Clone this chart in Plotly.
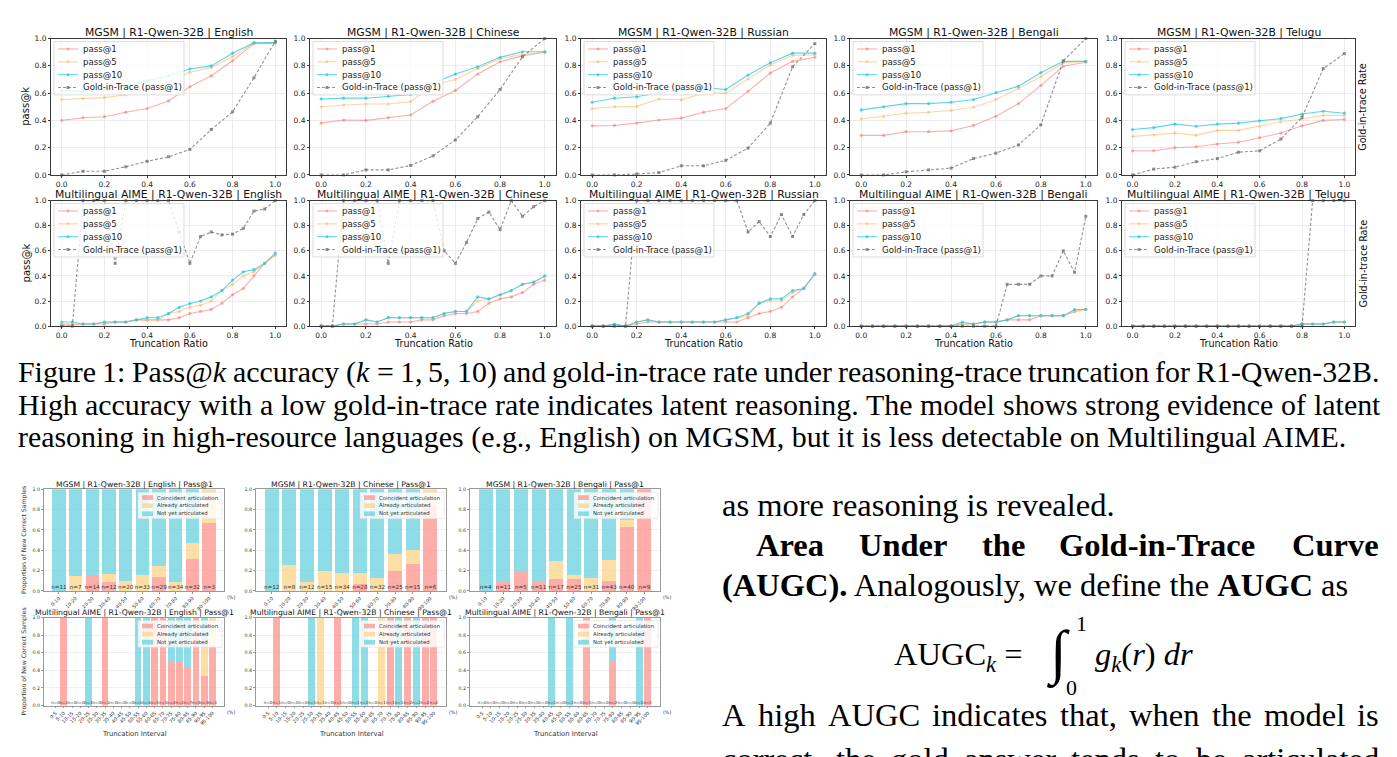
import re
import plotly.graph_objects as go

W, H = 1397, 757

# ======================= DATA =======================
ratio_mgsm = [0.0, 0.1, 0.2, 0.3, 0.4, 0.5, 0.6, 0.7, 0.8, 0.9, 1.0]
ratio_aime = [0.0, 0.05, 0.1, 0.15, 0.2, 0.25, 0.3, 0.35, 0.4, 0.45, 0.5,
              0.55, 0.6, 0.65, 0.7, 0.75, 0.8, 0.85, 0.9, 0.95, 1.0]
languages = ["English", "Chinese", "Russian", "Bengali", "Telugu"]

mgsm_english_p1 = [0.40, 0.42, 0.427, 0.46, 0.487, 0.543, 0.647, 0.727, 0.837, 0.963, 0.967]
mgsm_english_p5 = [0.553, 0.56, 0.567, 0.587, 0.633, 0.683, 0.753, 0.787, 0.867, 0.967, 0.967]
mgsm_english_p10 = [0.617, 0.613, 0.633, 0.65, 0.69, 0.727, 0.777, 0.80, 0.893, 0.97, 0.97]
mgsm_english_gold = [0.0, 0.027, 0.027, 0.06, 0.10, 0.133, 0.187, 0.333, 0.463, 0.713, 0.98]

mgsm_chinese_p1 = [0.38, 0.403, 0.40, 0.42, 0.44, 0.54, 0.62, 0.74, 0.83, 0.873, 0.90]
mgsm_chinese_p5 = [0.50, 0.513, 0.52, 0.52, 0.537, 0.66, 0.70, 0.78, 0.853, 0.883, 0.90]
mgsm_chinese_p10 = [0.557, 0.563, 0.563, 0.577, 0.59, 0.673, 0.74, 0.793, 0.863, 0.903, 0.903]
mgsm_chinese_gold = [0.0, 0.0, 0.037, 0.037, 0.07, 0.14, 0.257, 0.427, 0.627, 0.867, 1.0]

mgsm_russian_p1 = [0.36, 0.363, 0.38, 0.403, 0.417, 0.46, 0.487, 0.613, 0.747, 0.833, 0.863]
mgsm_russian_p5 = [0.487, 0.50, 0.503, 0.557, 0.55, 0.60, 0.60, 0.703, 0.807, 0.877, 0.88]
mgsm_russian_p10 = [0.533, 0.563, 0.573, 0.603, 0.617, 0.64, 0.627, 0.733, 0.823, 0.893, 0.893]
mgsm_russian_gold = [0.0, 0.0, 0.007, 0.017, 0.067, 0.067, 0.107, 0.197, 0.38, 0.793, 0.963]

mgsm_bengali_p1 = [0.29, 0.29, 0.317, 0.317, 0.323, 0.363, 0.43, 0.523, 0.657, 0.797, 0.827]
mgsm_bengali_p5 = [0.41, 0.43, 0.453, 0.46, 0.473, 0.497, 0.553, 0.633, 0.72, 0.823, 0.833]
mgsm_bengali_p10 = [0.477, 0.50, 0.523, 0.523, 0.533, 0.553, 0.603, 0.65, 0.75, 0.833, 0.833]
mgsm_bengali_gold = [0.0, 0.0, 0.023, 0.037, 0.05, 0.12, 0.16, 0.22, 0.367, 0.837, 1.0]

mgsm_telugu_p1 = [0.177, 0.177, 0.20, 0.207, 0.227, 0.24, 0.273, 0.307, 0.36, 0.40, 0.407]
mgsm_telugu_p5 = [0.283, 0.293, 0.307, 0.29, 0.327, 0.327, 0.357, 0.39, 0.41, 0.437, 0.437]
mgsm_telugu_p10 = [0.333, 0.347, 0.373, 0.357, 0.373, 0.38, 0.397, 0.413, 0.447, 0.467, 0.453]
mgsm_telugu_gold = [0.0, 0.043, 0.057, 0.097, 0.12, 0.167, 0.177, 0.263, 0.423, 0.78, 0.89]

aime_english_p1 = [0.01, 0.01, 0.017, 0.017, 0.017, 0.033, 0.033, 0.05, 0.05, 0.05, 0.05,
                   0.067, 0.10, 0.117, 0.133, 0.183, 0.25, 0.30, 0.40, 0.50, 0.567]
aime_english_p5 = [0.017, 0.017, 0.017, 0.017, 0.033, 0.033, 0.033, 0.05, 0.05, 0.05, 0.10,
                   0.117, 0.15, 0.167, 0.20, 0.283, 0.333, 0.40, 0.433, 0.50, 0.567]
aime_english_p10 = [0.033, 0.033, 0.017, 0.017, 0.033, 0.033, 0.033, 0.05, 0.067, 0.067, 0.10,
                    0.15, 0.18, 0.20, 0.233, 0.283, 0.367, 0.433, 0.45, 0.50, 0.583]
aime_english_gold = [0.0, 0.0, 1.0, 1.0, 1.0, 0.5, 1.0, 1.0, 1.0, 1.0, 1.0,
                     0.75, 0.5, 0.714, 0.75, 0.727, 0.733, 0.778, 0.917, 0.933, 1.0]

aime_chinese_p1 = [0.0, 0.0, 0.017, 0.017, 0.017, 0.017, 0.033, 0.033, 0.033, 0.05, 0.05,
                   0.083, 0.10, 0.10, 0.117, 0.183, 0.217, 0.233, 0.267, 0.333, 0.367]
aime_chinese_p5 = [0.0, 0.0, 0.017, 0.017, 0.05, 0.033, 0.067, 0.067, 0.067, 0.067, 0.067,
                   0.10, 0.117, 0.117, 0.20, 0.217, 0.25, 0.283, 0.333, 0.35, 0.40]
aime_chinese_p10 = [0.0, 0.0, 0.017, 0.017, 0.05, 0.033, 0.067, 0.067, 0.067, 0.067, 0.067,
                    0.10, 0.117, 0.117, 0.233, 0.217, 0.25, 0.283, 0.333, 0.35, 0.40]
aime_chinese_gold = [0.0, 0.0, 1.0, 1.0, 1.0, 1.0, 0.5, 1.0, 1.0, 1.0, 1.0,
                     0.6, 0.5, 0.667, 0.857, 0.909, 0.769, 1.0, 0.875, 0.952, 1.0]

aime_russian_p1 = [0.0, 0.0, 0.01, 0.0, 0.017, 0.033, 0.033, 0.033, 0.033, 0.033, 0.033,
                   0.033, 0.033, 0.033, 0.067, 0.10, 0.117, 0.15, 0.233, 0.30, 0.417]
aime_russian_p5 = [0.0, 0.0, 0.01, 0.0, 0.033, 0.05, 0.033, 0.033, 0.033, 0.033, 0.033,
                   0.033, 0.05, 0.067, 0.083, 0.183, 0.20, 0.20, 0.267, 0.30, 0.417]
aime_russian_p10 = [0.0, 0.0, 0.017, 0.0, 0.033, 0.05, 0.033, 0.033, 0.033, 0.033, 0.033,
                    0.033, 0.05, 0.067, 0.10, 0.183, 0.217, 0.217, 0.283, 0.30, 0.417]
aime_russian_gold = [0.0, 0.0, 0.0, 0.0, 1.0, 1.0, 1.0, 1.0, 1.0, 1.0, 1.0,
                     1.0, 1.0, 1.0, 0.75, 0.833, 0.714, 0.889, 0.714, 0.889, 1.0]

aime_bengali_p1 = [0.0, 0.0, 0.0, 0.0, 0.0, 0.0, 0.0, 0.0, 0.0, 0.017, 0.017,
                   0.033, 0.033, 0.05, 0.05, 0.05, 0.083, 0.083, 0.083, 0.117, 0.133]
aime_bengali_p5 = [0.0, 0.0, 0.0, 0.0, 0.0, 0.0, 0.0, 0.0, 0.0, 0.017, 0.017,
                   0.033, 0.033, 0.05, 0.083, 0.083, 0.083, 0.083, 0.083, 0.117, 0.133]
aime_bengali_p10 = [0.0, 0.0, 0.0, 0.0, 0.0, 0.0, 0.0, 0.0, 0.0, 0.033, 0.017,
                    0.033, 0.033, 0.05, 0.083, 0.083, 0.083, 0.083, 0.083, 0.133, 0.133]
aime_bengali_gold = [0.0, 0.0, 0.0, 0.0, 0.0, 0.0, 0.0, 0.0, 0.0, 0.0, 0.0,
                     0.0, 0.0, 0.333, 0.333, 0.333, 0.40, 0.40, 0.60, 0.429, 0.875]

aime_telugu_p1 = [0.0, 0.0, 0.0, 0.0, 0.0, 0.0, 0.0, 0.0, 0.0, 0.0, 0.0,
                  0.0, 0.0, 0.0, 0.0, 0.0, 0.017, 0.017, 0.017, 0.033, 0.033]
aime_telugu_p5 = [0.0, 0.0, 0.0, 0.0, 0.0, 0.0, 0.0, 0.0, 0.0, 0.0, 0.0,
                  0.0, 0.0, 0.0, 0.0, 0.0, 0.017, 0.017, 0.017, 0.033, 0.033]
aime_telugu_p10 = [0.0, 0.0, 0.0, 0.0, 0.0, 0.0, 0.0, 0.0, 0.0, 0.0, 0.0,
                   0.0, 0.0, 0.0, 0.0, 0.0, 0.017, 0.017, 0.017, 0.033, 0.033]
aime_telugu_gold = [0.0, 0.0, 0.0, 0.0, 0.0, 0.0, 0.0, 0.0, 0.0, 0.0, 0.0,
                    0.0, 0.0, 0.0, 0.0, 0.0, 0.0, 1.0, 1.0, 1.0, 1.0]

# stacked-bar data (proportions of new correct samples)
intervals_mgsm = ["0-10", "10-20", "20-30", "30-40", "40-50", "50-60", "60-70", "70-80", "80-90", "90-100"]
intervals_aime = ["0-5", "5-10", "10-15", "15-20", "20-25", "25-30", "30-35", "35-40", "40-45", "45-50",
                  "50-55", "55-60", "60-65", "65-70", "70-75", "75-80", "80-85", "85-90", "90-95", "95-100"]

bar_mgsm_english_n = [11, 7, 14, 12, 20, 33, 29, 34, 32, 3]
bar_mgsm_english_coinc = [0.0, 0.0, 0.143, 0.083, 0.0, 0.0, 0.138, 0.0, 0.3125, 0.667]
bar_mgsm_english_already = [0.0, 0.143, 0.0, 0.083, 0.10, 0.152, 0.103, 0.088, 0.156, 0.333]
bar_mgsm_english_notyet = [1.0, 0.857, 0.857, 0.833, 0.90, 0.848, 0.759, 0.912, 0.531, 0.0]

bar_mgsm_chinese_n = [12, 8, 12, 15, 34, 28, 32, 25, 15, 6]
bar_mgsm_chinese_coinc = [0.0, 0.0, 0.0, 0.0, 0.0, 0.071, 0.0, 0.20, 0.267, 0.833]
bar_mgsm_chinese_already = [0.0, 0.25, 0.083, 0.20, 0.176, 0.107, 0.125, 0.16, 0.133, 0.167]
bar_mgsm_chinese_notyet = [1.0, 0.75, 0.917, 0.80, 0.824, 0.821, 0.875, 0.64, 0.60, 0.0]

bar_mgsm_bengali_n = [4, 11, 5, 11, 17, 25, 31, 43, 40, 9]
bar_mgsm_bengali_coinc = [0.0, 0.091, 0.20, 0.091, 0.118, 0.12, 0.0, 0.093, 0.625, 1.0]
bar_mgsm_bengali_already = [0.0, 0.0, 0.0, 0.0, 0.176, 0.04, 0.129, 0.209, 0.075, 0.0]
bar_mgsm_bengali_notyet = [1.0, 0.909, 0.80, 0.909, 0.706, 0.84, 0.871, 0.698, 0.30, 0.0]

bar_aime_english_n = [0, 1, 0, 0, 1, 0, 1, 0, 0, 0, 1, 1, 1, 1, 2, 2, 7, 4, 3, 3]
bar_aime_english_coinc = [0, 1.0, 0, 0, 0, 0, 1.0, 0, 0, 0, 0, 0, 1.0, 1.0, 0.5, 0.5, 0.429, 1.0, 0.333, 0.667]
bar_aime_english_already = [0, 0, 0, 0, 0, 0, 0, 0, 0, 0, 0, 0, 0, 0, 0, 0, 0, 0, 0.333, 0.333]
bar_aime_english_notyet = [0, 0, 0, 0, 1.0, 0, 0, 0, 0, 0, 1.0, 1.0, 0, 0, 0.5, 0.5, 0.571, 0, 0.333, 0]

bar_aime_chinese_n = [0, 1, 0, 0, 0, 1, 1, 0, 1, 0, 1, 2, 0, 1, 1, 1, 2, 2, 2, 2]
bar_aime_chinese_coinc = [0, 1.0, 0, 0, 0, 0, 0, 0, 1.0, 0, 0, 0, 0, 0, 1.0, 0, 1.0, 0, 1.0, 1.0]
bar_aime_chinese_already = [0, 0, 0, 0, 0, 0, 1.0, 0, 0, 0, 0, 0, 0, 1.0, 0, 0, 0, 0, 0, 0]
bar_aime_chinese_notyet = [0, 0, 0, 0, 0, 1.0, 0, 0, 0, 0, 1.0, 1.0, 0, 0, 0, 1.0, 0, 1.0, 0, 0]

bar_aime_bengali_n = [0, 0, 0, 0, 0, 0, 0, 0, 1, 0, 1, 0, 1, 0, 0, 2, 0, 0, 1, 1]
bar_aime_bengali_coinc = [0, 0, 0, 0, 0, 0, 0, 0, 0, 0, 0, 0, 1.0, 0, 0, 0.5, 0, 0, 0, 1.0]
bar_aime_bengali_already = [0, 0, 0, 0, 0, 0, 0, 0, 0, 0, 0, 0, 0, 0, 0, 0, 0, 0, 0, 0]
bar_aime_bengali_notyet = [0, 0, 0, 0, 0, 0, 0, 0, 1.0, 0, 1.0, 0, 0, 0, 0, 0.5, 0, 0, 1.0, 0]

# page text
caption_lines = [
    "Figure 1: Pass@<i>k</i> accuracy (<i>k</i> = 1, 5, 10) and gold-in-trace rate under reasoning-trace truncation for R1-Qwen-32B.",
    "High accuracy with a low gold-in-trace rate indicates latent reasoning. The model shows strong evidence of latent",
    "reasoning in high-resource languages (e.g., English) on MGSM, but it is less detectable on Multilingual AIME.",
]
body_heading = "Area Under the Gold-in-Trace Curve"
body_line_a = "as more reasoning is revealed."
body_line_b = "<b>(AUGC).</b> Analogously, we define the <b>AUGC</b> as"
body_line_c = "A high AUGC indicates that, when the model is"
body_line_d = "correct, the gold answer tends to be articulated"

# ======================= STYLE / LAYOUT =======================
C_P1 = "rgba(250,128,120,0.62)"
C_P5 = "rgba(255,185,110,0.62)"
C_P10 = "rgba(40,200,225,0.75)"
C_GOLD = "rgba(110,110,110,0.75)"
C_COINC = "rgba(255,150,145,0.78)"
C_ALREADY = "rgba(252,214,140,0.78)"
C_NOTYET = "rgba(110,210,222,0.78)"

SANS = "DejaVu Sans"
SERIF = "Liberation Serif"

# Times (Liberation Serif is metric-compatible) advance widths, per 1000 em
TIMES = {" ": 250, "!": 333, "(": 333, ")": 333, ",": 250, "-": 333, ".": 250, ":": 278, "=": 564, "@": 921}
TIMES.update({d: 500 for d in "0123456789"})
TIMES.update(dict(zip("ABCDEFGHIJKLMNOPQRSTUVWXYZ",
                      [722, 667, 667, 722, 611, 556, 722, 722, 333, 389, 722, 611, 889, 722, 722, 556, 722, 667, 556,
                       611, 722, 722, 944, 722, 722, 611])))
TIMES.update(dict(zip("abcdefghijklmnopqrstuvwxyz",
                      [444, 500, 444, 500, 444, 333, 500, 500, 278, 278, 500, 278, 778, 500, 500, 500, 500, 333, 389,
                       278, 500, 500, 722, 500, 500, 444])))
TIMES_BOLD = dict(TIMES)
TIMES_BOLD.update({"A": 722, "C": 722, "G": 778, "T": 667, "U": 722, "a": 500, "d": 556, "e": 444, "h": 556,
                   "n": 556, "r": 444, "t": 333, "u": 556, "v": 500, "c": 444, "l": 278, "i": 278, "o": 500})

traces, shapes, annotations = [], [], []
layout_axes = {}
axis_counter = [0]


def X(px):
    return px / W


def Y(py):
    return 1 - py / H


def em_width(s, table):
    return sum(table.get(ch, 500) for ch in re.sub(r"<[^>]+>", "", s)) / 1000.0


def new_axes(xpx, ypx, xcfg, ycfg):
    axis_counter[0] += 1
    n = axis_counter[0]
    sfx = "" if n == 1 else str(n)
    xcfg = dict(xcfg, domain=[X(xpx[0]), X(xpx[1])], anchor="y" + sfx)
    ycfg = dict(ycfg, domain=[Y(ypx[1]), Y(ypx[0])], anchor="x" + sfx)
    layout_axes["xaxis" + sfx] = xcfg
    layout_axes["yaxis" + sfx] = ycfg
    return "x" + sfx, "y" + sfx


def text(s, x, y, size, family=SANS, color="#111", xanchor="center", yanchor="middle", angle=0):
    annotations.append(dict(text=s, x=X(x), y=Y(y), xref="paper", yref="paper", showarrow=False,
                            xanchor=xanchor, yanchor=yanchor, textangle=angle, borderpad=0, borderwidth=0,
                            font=dict(family=family, size=size, color=color)))


def justified(line, x0, x1, y, size, table=TIMES, wrap=""):
    words = line.split(" ")
    widths = [em_width(w, table) * size for w in words]
    gap = (x1 - x0 - sum(widths)) / (len(words) - 1)
    x = x0
    for w, wd in zip(words, widths):
        text(wrap.format(w) if wrap else w, x, y, size, family=SERIF, color="black", xanchor="left")
        x += wd + gap


def rect(x0, y0, x1, y1, fill, line_color, lw=0.8):
    shapes.append(dict(type="rect", xref="paper", yref="paper", x0=X(x0), x1=X(x1), y0=Y(y1), y1=Y(y0),
                       fillcolor=fill, line=dict(color=line_color, width=lw), layer="above"))


# ---------- top figure: pass@k curves ----------
col_px = [(51, 286), (310, 556), (581, 826), (850, 1097), (1122, 1355)]
row_px = [(35, 173), (199, 326)]

line_tick = dict(family=SANS, size=7.5, color="#222")
base_ax = dict(showgrid=True, gridcolor="#ececec", gridwidth=0.8, zeroline=False, showline=True,
               mirror=True, linecolor="#3a3a3a", linewidth=1, ticks="outside", ticklen=2,
               tickcolor="#3a3a3a", tickwidth=0.8, tickfont=line_tick, tickformat=".1f",
               tick0=0, dtick=0.2, fixedrange=True)

series_top = {
    "MGSM": (ratio_mgsm, [
        (mgsm_english_p1, mgsm_english_p5, mgsm_english_p10, mgsm_english_gold),
        (mgsm_chinese_p1, mgsm_chinese_p5, mgsm_chinese_p10, mgsm_chinese_gold),
        (mgsm_russian_p1, mgsm_russian_p5, mgsm_russian_p10, mgsm_russian_gold),
        (mgsm_bengali_p1, mgsm_bengali_p5, mgsm_bengali_p10, mgsm_bengali_gold),
        (mgsm_telugu_p1, mgsm_telugu_p5, mgsm_telugu_p10, mgsm_telugu_gold)]),
    "Multilingual AIME": (ratio_aime, [
        (aime_english_p1, aime_english_p5, aime_english_p10, aime_english_gold),
        (aime_chinese_p1, aime_chinese_p5, aime_chinese_p10, aime_chinese_gold),
        (aime_russian_p1, aime_russian_p5, aime_russian_p10, aime_russian_gold),
        (aime_bengali_p1, aime_bengali_p5, aime_bengali_p10, aime_bengali_gold),
        (aime_telugu_p1, aime_telugu_p5, aime_telugu_p10, aime_telugu_gold)]),
}

styles = [("pass@1", C_P1, "solid", "circle"), ("pass@5", C_P5, "solid", "circle"),
          ("pass@10", C_P10, "solid", "circle"), ("Gold-in-Trace (pass@1)", C_GOLD, "3px,2px", "square")]

for r, bench in enumerate(["MGSM", "Multilingual AIME"]):
    xs, groups = series_top[bench]
    for c, lang in enumerate(languages):
        xid, yid = new_axes(col_px[c], row_px[r], dict(base_ax, range=[-0.05, 1.05]),
                            dict(base_ax, range=[0, 1]))
        for (name, color, dash, sym), ys in zip(styles, groups[c]):
            traces.append(go.Scatter(x=xs, y=ys, mode="lines+markers", xaxis=xid, yaxis=yid,
                                     line=dict(color=color, width=1.1, dash=dash),
                                     marker=dict(color=color, size=3.2 if sym == "circle" else 3, symbol=sym),
                                     cliponaxis=False, showlegend=False, name=name))
        x0, x1 = col_px[c]
        y0, y1 = row_px[r]
        text(f"{bench} | R1-Qwen-32B | {lang}", (x0 + x1) / 2, y0 - 6.5, 10.8)
        # legend
        rect(x0 + 3, y0 + 3, x0 + 133, y0 + 57, "rgba(255,255,255,0.8)", "rgba(200,200,200,0.8)")
        for i, (name, color, dash, sym) in enumerate(styles):
            ly = y0 + 10.5 + 13 * i
            shapes.append(dict(type="line", xref="paper", yref="paper", x0=X(x0 + 7), x1=X(x0 + 27),
                               y0=Y(ly), y1=Y(ly), line=dict(color=color, width=1.1, dash=dash), layer="above"))
            shapes.append(dict(type="circle" if sym == "circle" else "rect", xref="paper", yref="paper",
                               x0=X(x0 + 15.5), x1=X(x0 + 18.5), y0=Y(ly + 1.5), y1=Y(ly - 1.5),
                               fillcolor=color, line=dict(width=0), layer="above"))
            text(name, x0 + 32, ly, 8.6, xanchor="left", color="#222")
        if r == 1:
            text("Truncation Ratio", (x0 + x1) / 2, 344, 9.6)
    # y titles
    text("pass@k", 26, (row_px[r][0] + row_px[r][1]) / 2, 10, angle=-90)
    text("Gold-in-trace Rate", 1363, (row_px[r][0] + row_px[r][1]) / 2, 9.6, angle=-90)

# ---------- bottom-left figure: stacked bars ----------
bar_col_px = [(44, 224), (256, 446), (470, 660)]
bar_row_px = [(491, 594), (621, 710)]
bar_tick = dict(family=SANS, size=4.8, color="#333")
bar_ax = dict(showgrid=False, zeroline=False, showline=True, mirror=True, linecolor="#9a9a9a",
              linewidth=0.8, ticks="outside", ticklen=2, tickcolor="#9a9a9a", tickwidth=0.6,
              tickfont=bar_tick, fixedrange=True)

bar_sets = [
    ("MGSM", "English", intervals_mgsm, bar_mgsm_english_n, bar_mgsm_english_coinc, bar_mgsm_english_already, bar_mgsm_english_notyet),
    ("MGSM", "Chinese", intervals_mgsm, bar_mgsm_chinese_n, bar_mgsm_chinese_coinc, bar_mgsm_chinese_already, bar_mgsm_chinese_notyet),
    ("MGSM", "Bengali", intervals_mgsm, bar_mgsm_bengali_n, bar_mgsm_bengali_coinc, bar_mgsm_bengali_already, bar_mgsm_bengali_notyet),
    ("Multilingual AIME", "English", intervals_aime, bar_aime_english_n, bar_aime_english_coinc, bar_aime_english_already, bar_aime_english_notyet),
    ("Multilingual AIME", "Chinese", intervals_aime, bar_aime_chinese_n, bar_aime_chinese_coinc, bar_aime_chinese_already, bar_aime_chinese_notyet),
    ("Multilingual AIME", "Bengali", intervals_aime, bar_aime_bengali_n, bar_aime_bengali_coinc, bar_aime_bengali_already, bar_aime_bengali_notyet),
]
bar_styles = [("Coincident articulation", C_COINC), ("Already articulated", C_ALREADY), ("Not yet articulated", C_NOTYET)]

for k, (bench, lang, cats, ns, coinc, already, notyet) in enumerate(bar_sets):
    r, c = divmod(k, 3)
    nb = len(cats)
    pad = 0.4 + 0.05 * (nb - 0.2)
    xid, yid = new_axes(bar_col_px[c], bar_row_px[r],
                        dict(bar_ax, type="category", range=[-pad, nb - 1 + pad], tickangle=-45),
                        dict(bar_ax, range=[0, 1], tick0=0, dtick=0.2, tickformat=".1f",
                             showgrid=True, gridcolor="#f0f0f0", gridwidth=0.6))
    for (name, color), vals in zip(bar_styles, (coinc, already, notyet)):
        traces.append(go.Bar(x=cats, y=vals, xaxis=xid, yaxis=yid, marker=dict(color=color, line=dict(width=0)),
                             width=0.8, showlegend=False, name=name))
    traces.append(go.Scatter(x=cats, y=[0.035] * nb, mode="text", text=[f"n={v}" for v in ns],
                             textfont=dict(family=SANS, size=5.6 if nb == 10 else 4.1, color="#333"),
                             xaxis=xid, yaxis=yid, showlegend=False, cliponaxis=False))
    x0, x1 = bar_col_px[c]
    y0, y1 = bar_row_px[r]
    text(f"{bench} | R1-Qwen-32B | {lang} | Pass@1", (x0 + x1) / 2, y0 - 5, 7.7)
    text("(%)", x1 + 7, y1 + 7, 4.8, color="#333")
    # legend
    lx = x1 - 86
    rect(lx, y0 + 3, x1 - 2, y0 + 30, "rgba(255,255,255,0.8)", "rgba(215,215,215,0.8)", 0.6)
    for i, (name, color) in enumerate(bar_styles):
        ly = y0 + 8.5 + 8.2 * i
        shapes.append(dict(type="rect", xref="paper", yref="paper", x0=X(lx + 4), x1=X(lx + 15),
                           y0=Y(ly + 2.4), y1=Y(ly - 2.4), fillcolor=color, line=dict(width=0), layer="above"))
        text(name, lx + 19, ly, 5.4, xanchor="left", color="#333")
    if c == 0:
        text("Proportion of New Correct Samples", 24, (y0 + y1) / 2, 6.2, angle=-90, color="#333")
    if r == 1:
        text("Truncation Interval", (x0 + x1) / 2, 739, 6.8, color="#333")

# ---------- caption (justified like the LaTeX page) ----------
cap_font = 29.9
justified(caption_lines[0], 18, 1380, 372, cap_font)
justified(caption_lines[1], 18, 1380, 405, cap_font)
text(caption_lines[2], 18, 438, cap_font, family=SERIF, color="black", xanchor="left")

# ---------- right column body text ----------
body = 32.5
text(body_line_a, 722, 507, body, family=SERIF, color="black", xanchor="left")
justified(body_heading, 756, 1379, 548, body, table=TIMES_BOLD, wrap="<b>{}</b>")
text(body_line_b, 722, 588, body, family=SERIF, color="black", xanchor="left")
text("AUGC<sub><i>k</i></sub> =", 894, 660, body, family=SERIF, color="black", xanchor="left")
text("∫", 1058, 658, 60, family=SERIF, color="black")
text("1", 1081, 627, 22, family=SERIF, color="black")
text("0", 1071, 692, 22, family=SERIF, color="black")
text("<i>g</i><sub><i>k</i></sub>(<i>r</i>) <i>dr</i>", 1095, 660, body, family=SERIF, color="black", xanchor="left")
justified(body_line_c, 722, 1379, 720, body)
justified(body_line_d, 722, 1379, 764, body)

fig = go.Figure(data=traces)
fig.update_layout(width=W, height=H, margin=dict(l=0, r=0, t=0, b=0), paper_bgcolor="white",
                  plot_bgcolor="white", showlegend=False, barmode="stack", bargap=0.2,
                  shapes=shapes, annotations=annotations, font=dict(family=SANS), **layout_axes)
fig.write_html("out.html", config={"displayModeBar": False})
